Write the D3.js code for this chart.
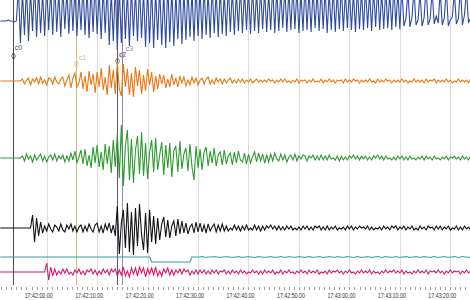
<!DOCTYPE html>
<html>
<head>
<meta charset="utf-8">
<script src="https://cdn.jsdelivr.net/npm/d3@7"></script>
<style>
  html, body { margin: 0; padding: 0; background: #fff; }
  svg { display: block; font-family: "Liberation Sans", Arial, sans-serif; }
</style>
</head>
<body>
<div id="chart"></div>
<script>
// time axis, seconds after 17:42:00
const tickTimes = [0, 10, 20, 30, 40, 50, 60, 70, 80];
const tickLabels = ["17:42:00.00", "17:42:10.00", "17:42:20.00", "17:42:30.00", "17:42:40.00",
  "17:42:50.00", "17:43:00.00", "17:43:10.00", "17:43:20.00"];

// cursors
const cursorNames = ["c0", "c1", "c2", "c3"];
const cursorTimes = [-6.7, 5.8, 13.9, 14.9];

// traces, one sample every 0.4 s starting at -9.2 s
const sampleStart = -9.2;
const sampleStep = 0.4;

const traceBlue = [
  0,0,0,0,1,0,0,-1,0,
  34,-22,30,-14,36,-20,31,-10,38,-16,
  33,-12,29,-15,35,-9,32,-14,37,-11,
  30,-16,34,-8,31,-13,38,-10,33,-15,
  30,-9,36,-14,32,-17,35,-11,39,-13,
  31,-18,34,-12,37,-24,30,-20,36,-29,
  33,-22,38,-18,31,-25,35,-15,32,-20,
  37,-17,30,-26,34,-22,36,-27,31,-19,
  35,-24,30,-27,38,-21,33,-25,29,-18,
  36,-23,31,-19,34,-16,30,-20,37,-15,
  32,-18,35,-14,30,-17,36,-12,31,-16,
  34,-13,29,-15,37,-11,32,-14,30,-10,
  35,-12,31,-9,33,-13,36,-10,30,-12,
  34,-8,31,-11,29,-9,36,-12,32,-10,
  30,-7,34,-11,31,-9,35,-8,33,-12,
  29,-10,36,-9,31,-11,33,-7,30,-10,
  35,-8,32,-12,30,-9,34,-11,31,-8,
  36,-10,30,-7,33,-9,29,-11,35,-8,
  31,-9,34,-7,30,-10,32,-6,36,-9,
  30,-8,33,-7,29,-9,35,-6,31,-8,
  34,-5,2,30,-6,4,32,-4,1,29,
  -5,3,35,-4,2,31,-3,5,-2,30,
  -4,3,33,-5,1,4,29,-3,2,34,
  -4,6,31,-2,3,30,-3,2
];

const traceOrange = [
  0,0,0,0,0,0,0,0,0,0,0,
  2,-3,1,3,-4,2,-1,3,-3,4,
  -2,1,-4,3,2,-3,4,-1,-3,2,
  4,-5,1,6,-7,3,8,-6,-2,9,
  -8,5,-11,10,-4,7,-12,9,-6,13,
  -9,4,-14,16,-7,11,-13,19,-8,-15,
  17,-6,12,-14,8,-16,14,-5,11,-13,
  6,-10,12,-4,9,-11,5,-8,7,-3,
  6,-7,2,-6,7,-4,3,-6,5,-2,
  4,-5,1,-4,4,-2,3,-4,1,3,
  -3,2,4,-3,1,-3,3,-1,2,-3,
  2,-2,1,3,-2,1,-2,2,-1,2,
  -2,1,-1,2,-2,0,2,-1,1,-1,
  1,-1,2,0,1,-2,1,-1,2,-1,
  2,-1,0,-2,1,-1,2,-2,1,0,
  1,-2,1,-1,2,-1,0,-1,2,-2,
  1,-1,2,-1,1,-2,1,0,1,-2,
  2,-1,1,-1,2,0,1,-2,1,-1,
  1,-1,2,-1,0,-2,2,-1,1,-1,
  2,0,1,-2,1,-1,1,-1,2,-1,
  1,-2,0,-1,2,-1,1,-1,1,-2,
  2,-1,1,0,2,-2,1,-1,1,-1,
  2,-1,1,-2,0,-1,2,-1,1,-1,
  1,-2,2,-1,1,-1
];

const traceGreen = [
  0,0,0,0,0,0,0,0,0,0,0,
  2,-3,4,-1,2,-4,3,-2,1,4,
  -3,2,-4,1,3,-2,4,-3,2,-1,
  3,-4,2,-3,5,-2,7,-5,1,8,
  -6,9,-8,3,-10,11,-5,13,-9,6,
  -12,14,-6,12,-15,18,-9,24,-20,33,
  -28,12,28,-22,19,-25,8,22,-16,26,
  -18,15,-21,6,18,-14,20,-12,3,16,
  -17,13,-10,15,-19,7,12,-14,17,-11,
  4,10,-13,14,-9,-22,12,-10,9,-12,
  6,11,-8,7,-5,10,-8,3,6,-7,
  8,-6,2,5,-7,6,-5,7,-2,-4,
  5,-6,4,-5,1,6,-4,5,-3,4,
  -5,3,-4,4,-3,5,-1,-3,4,-2,
  3,-4,1,3,-2,4,-3,2,-1,3,
  2,-3,2,0,3,-2,2,-2,3,-2,
  2,-2,3,-1,0,-2,2,-3,2,-2,
  1,-2,2,0,3,-1,2,-2,2,-1,
  2,-2,1,-2,2,0,3,-1,2,-2,
  2,-1,0,-2,1,-2,2,-1,2,-2,
  1,-2,2,-1,0,-2,1,-1,2,-2,
  2,-1,1,-2,2,-1,0,-2,1,-1,
  2,-2,1,0,2,-1,1,-2,2,-1,
  1,-2,2,-1,1,-1
];

const traceBlack = [
  0,0,0,0,0,0,0,0,0,0,0,0,0,0,0,0,
  13,-14,10,-8,6,
  -5,2,-3,4,-1,-4,3,1,-3,4,
  -2,-4,3,-1,4,-3,2,-4,1,3,
  -4,2,-3,4,-1,-4,3,5,-4,2,
  -5,4,-2,5,-5,3,-8,
  22,-26,5,18,-20,25,-24,16,-27,20,
  -18,24,-6,-22,15,-25,18,-14,12,-16,
  10,-12,4,11,-9,8,-10,2,7,-8,
  9,-6,7,-5,5,-6,1,4,-5,6,
  -4,5,-4,3,-5,4,-3,1,4,-4,3,-3,4,
  -3,2,-3,0,-2,3,-2,2,-3,2,
  -2,3,-2,0,-2,3,-2,2,-3,2,
  -2,2,0,3,-1,2,-2,2,-2,1,
  -2,2,-1,2,-2,0,-2,1,-2,2,
  -1,2,-2,1,-2,2,0,2,-2,1,
  -2,2,-2,1,-1,2,-2,0,-1,1,
  -2,2,-1,2,-2,1,-1,2,0,1,
  -1,2,-2,1,-2,0,-1,1,-2,2,
  -1,1,-2,2,0,2,-2,1,-1,2,
  -2,1,-1,2,-2,0,-2,2,-1,1,
  -2,2,0,1,-2,2,-1,2,-2,1,
  -1,2,-2,0,-1,2,-2,1,-2,2,
  -1,1,-2,2,-1,2
];

const traceTeal = [
  0,0,0,0,0,0,0,0,0,0,
  0,0,0,0,0,0,0,0,0,0,
  0,0,0,0,0,0,0,0,0,0,
  0,0,0,0,0,0,0,0,0,0,
  0,0,0,0,0,0,0,0,0,0,
  0,0,0,0,0,0,0,0,0,0,
  0,0,0,0,0,0,0,0,0,0,
  0,0,0,0,0,
  -5,-5,-5,-5,-5,-5,-5,-5,-5,-5,
  -5,-5,-5,-5,-5,-5,-5,-5,-5,-5,
  0,0,0,0,0,0.5,0,-0.5,0,0,
  0,0.5,0,0,-0.5,0,0,0.5,0,0,
  -0.5,0,0,0.5,0,-0.5,0,0,0.5,0,
  0,-0.5,0,0.5,0,0,-0.5,0,0,0.5,
  0,-0.5,0,0,0.5,0,-0.5,0,0.5,0,
  0,-0.5,0,0.5,0,0,-0.5,0,0.5,0,
  -0.5,0,0,0.5,0,-0.5,0,0,0.5,0,
  0,-0.5,0.5,0,0,-0.5,0,0.5,0,0,
  -0.5,0,0.5,0,-0.5,0,0,0.5,0,-0.5,
  0,0,0.5,0,-0.5,0,0.5,0,0,-0.5,
  0,0.5,0,-0.5,0,0,0.5,0,-0.5,0,
  0,0.5,0,-0.5,0,0.5,0,0,-0.5,0,
  0.5,0,-0.5,0,0,0.5,0,-0.5,0,0,
  0.5,0,-0.5,0,0.5,0,0,-0.5,0,0.5,
  0,0
];

const traceMagenta = [
  0,0,0,0,0,0,0,0,0,0,0,0,0,0,0,0,0,0,0,0,0,0,0,
  9,-8,5,-4,3,
  -3,1,-2,3,-1,3,-2,0,-3,2,
  -1,3,-2,1,-3,2,0,3,-2,2,
  -3,1,-2,3,-1,2,-3,3,0,3,
  -4,2,-3,5,-4,1,-5,4,-2,4,
  -4,5,-1,4,-5,3,-2,4,-3,5,
  -4,1,-4,3,-1,4,-3,2,-3,2,
  -1,3,-2,3,0,2,-3,1,-2,2,
  -2,2,-1,2,-2,1,-2,2,-1,2,
  -2,1,0,2,-2,1,-2,2,-1,1,
  -2,2,-1,1,-2,0,-1,2,-1,1,
  -2,1,-2,2,-1,1,-1,2,-2,0,
  -1,2,-2,1,-1,2,-1,0,-2,1,
  -1,2,-1,1,-2,2,-1,1,-1,2,
  -2,0,-1,1,-2,2,-1,1,0,2,
  -1,1,-2,1,-1,2,-1,0,-2,1,
  -1,2,-1,1,-1,2,-2,1,-1,0,
  -2,1,-1,2,-1,1,0,2,-1,1,
  -1,2,-2,1,-1,0,-2,1,-1,2,
  -1,1,-1,2,-2,1,0,1,-1,2,
  -1,1,-2,1,-1,2,-1,1,0,1,
  -2,1,-1,2,-1,1,-1,2,-1
];

const width = 470;
const height = 300;
const plotBottom = 285;

const svg = d3.select("#chart")
  .append("svg")
  .attr("width", width)
  .attr("height", height);

const x = d3.scaleLinear()
  .domain([-9.25, 83.9])
  .range([0, width]);

// grid lines
svg.append("g")
  .selectAll("line")
  .data(tickTimes)
  .join("line")
  .attr("x1", d => Math.round(x(d)) + 0.5)
  .attr("x2", d => Math.round(x(d)) + 0.5)
  .attr("y1", 0)
  .attr("y2", plotBottom)
  .attr("stroke", "#dcdcdc")
  .attr("stroke-width", 1);

// cursors
const cursorColors = ["#4a4a4a", "#c9c08a", "#5c5868", "#9a86a6"];
const cursorLabelPos = [[2, 50], [3, 60], [2, 57], [4, 51]];
const cursorMarkY = [56, 64, 61, 55];

const cursors = svg.append("g")
  .selectAll("g")
  .data(cursorNames)
  .join("g");

cursors.append("line")
  .attr("x1", (d, i) => Math.round(x(cursorTimes[i])) + 0.5)
  .attr("x2", (d, i) => Math.round(x(cursorTimes[i])) + 0.5)
  .attr("y1", 0)
  .attr("y2", plotBottom)
  .attr("stroke", (d, i) => cursorColors[i])
  .attr("stroke-width", 1);

// traces
const traces = [
  { values: traceBlue, base: 21, color: "#2f4c9c" },
  { values: traceOrange, base: 81, color: "#e57a14" },
  { values: traceGreen, base: 158, color: "#2f9a30" },
  { values: traceBlack, base: 228, color: "#111111" },
  { values: traceTeal, base: 257, color: "#3f9c9c" },
  { values: traceMagenta, base: 272, color: "#d4186c" }
];

traces.forEach(tr => {
  const y = d3.scaleLinear()
    .domain([-1, 1])
    .range([tr.base + 1, tr.base - 1]);

  const line = d3.line()
    .x((d, i) => x(sampleStart + i * sampleStep))
    .y(d => y(d));

  svg.append("path")
    .datum(tr.values)
    .attr("d", line)
    .attr("fill", "none")
    .attr("stroke", tr.color)
    .attr("stroke-width", 1.1);
});

// cursor labels and markers on top
cursors.append("path")
  .attr("d", d3.symbol(d3.symbolDiamond, 14))
  .attr("transform", (d, i) => `translate(${Math.round(x(cursorTimes[i])) + 0.5}, ${cursorMarkY[i]})`)
  .attr("fill", "none")
  .attr("stroke", (d, i) => cursorColors[i])
  .attr("stroke-width", 0.8);

cursors.append("text")
  .attr("x", (d, i) => x(cursorTimes[i]) + cursorLabelPos[i][0])
  .attr("y", (d, i) => cursorLabelPos[i][1])
  .style("font-size", "7px")
  .attr("fill", (d, i) => cursorColors[i])
  .text(d => d);

// minor ticks, one per second
svg.append("g")
  .selectAll("line")
  .data(d3.range(-9, 84, 1))
  .join("line")
  .attr("x1", d => Math.round(x(d)) + 0.5)
  .attr("x2", d => Math.round(x(d)) + 0.5)
  .attr("y1", 287)
  .attr("y2", 290)
  .attr("stroke", "#a0a0a0")
  .attr("stroke-width", 1);

// time labels
svg.append("g")
  .selectAll("text")
  .data(tickTimes)
  .join("text")
  .attr("x", d => x(d) - 22)
  .attr("y", 298)
  .attr("textLength", 28)
  .attr("lengthAdjust", "spacingAndGlyphs")
  .style("font-size", "7.5px")
  .attr("fill", "#333")
  .text((d, i) => tickLabels[i]);
</script>
</body>
</html>
